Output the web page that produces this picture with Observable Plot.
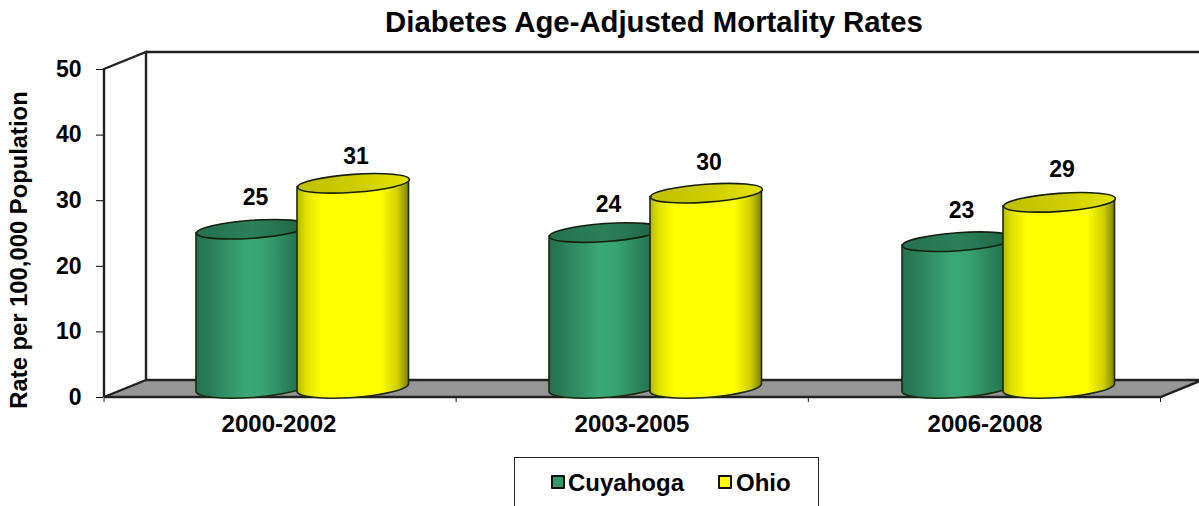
<!DOCTYPE html>
<html>
<head>
<meta charset="utf-8">
<script src="https://cdn.jsdelivr.net/npm/d3@7"></script>
<script src="https://cdn.jsdelivr.net/npm/@observablehq/plot@0.6"></script>
<style>
html,body{margin:0;padding:0;background:#fff;width:1199px;height:506px;overflow:hidden;font-family:"Liberation Sans",Arial,sans-serif;color:#000}
#title{height:46px;line-height:44px;font-weight:bold;font-size:29.3px;text-align:center;padding-left:109px}
#chart svg{display:block}
#legend{position:absolute;left:514px;top:457px;width:303px;height:60px;border:1px solid #222;box-sizing:content-box;font-weight:bold;font-size:24px}
#legend span.i{position:absolute;top:12px;line-height:26px}
#legend span.s{position:absolute;top:17px;width:10px;height:10px;border:2px solid #111;border-radius:1px}
</style>
</head>
<body>
<div id="title">Diabetes Age-Adjusted Mortality Rates</div>
<div id="chart"></div>
<div id="legend"></div>
<script>
const periods = ["2000-2002", "2003-2005", "2006-2008"];
const cuyahogaHeights = [24.2, 23.7, 22.3];
const ohioHeights = [31.2, 29.7, 28.3];
const cuyahogaLabels = [25, 24, 23];
const ohioLabels = [31, 30, 29];
const yTicks = [0, 10, 20, 30, 40, 50];
const seriesNames = ["Cuyahoga", "Ohio"];

const table = (h, l) => periods.map((p, i) => ({period: p, height: h[i], label: l[i]}));
const cuyahoga = table(cuyahogaHeights, cuyahogaLabels);
const ohio = table(ohioHeights, ohioLabels);

const W = 1199, H = 410;
const tilt = 4, ry = 9, baseRy = 10, lift = -9.5, sin = Math.sin(tilt * Math.PI / 180), cos = Math.cos(tilt * Math.PI / 180);
const rx = 56;

// Tilted ellipse as a custom symbol
const capSymbol = {
  draw(ctx) {
    const k = 0.5523;
    const P = (a, b) => [a * cos + b * sin, -a * sin + b * cos];
    const pts = [[-rx,0],[-rx,-k*ry],[-k*rx,-ry],[0,-ry],[k*rx,-ry],[rx,-k*ry],[rx,0],[rx,k*ry],[k*rx,ry],[0,ry],[-k*rx,ry],[-rx,k*ry],[-rx,0]].map(p => P(p[0], p[1]));
    ctx.moveTo(...pts[0]);
    for (let i = 1; i < pts.length; i += 3) ctx.bezierCurveTo(...pts[i], ...pts[i+1], ...pts[i+2]);
    ctx.closePath();
  }
};

// Bar rect -> cylinder body path
function cylinder(index, scales, values, dimensions, context, next) {
  const g = next(index, scales, values, dimensions, context);
  d3.select(g).selectAll("rect").each(function() {
    const r = d3.select(this);
    const x = +r.attr("x"), y = +r.attr("y"), w = +r.attr("width"), h = +r.attr("height");
    const t = w / 2 * sin, b = y + h;
    const d = `M${x},${y + t}L${x},${b + t}A${w/2},${baseRy} ${-tilt} 0 0 ${x + w},${b - t}L${x + w},${y - t}Z`;
    const p = document.createElementNS("http://www.w3.org/2000/svg", "path");
    p.setAttribute("d", d);
    for (const a of ["fill", "stroke", "stroke-width"]) if (r.attr(a)) p.setAttribute(a, r.attr(a));
    this.replaceWith(p);
  });
  return g;
}

// Gradients
function defs() {
  const d = d3.create("svg:defs");
  const grad = (id, stops) => {
    const g = d.append("linearGradient").attr("id", id);
    stops.forEach(([o, c]) => g.append("stop").attr("offset", o).attr("stop-color", c));
  };
  grad("g-body", [[0,"#24704f"],[0.12,"#2a7d59"],[0.45,"#3aa876"],[0.6,"#38a372"],[1,"#1f6445"]]);
  grad("y-body", [[0,"#b8b800"],[0.08,"#e0e000"],[0.22,"#ffff00"],[0.75,"#ffff00"],[0.9,"#d0d000"],[1,"#808000"]]);
  grad("g-cap", [[0,"#25704f"],[0.5,"#2b8059"],[1,"#1f6445"]]);
  grad("y-cap", [[0,"#c0c000"],[0.5,"#cccc00"],[1,"#e4e400"]]);
  return d.node();
}

// 3-D walls and floor, derived from the scales
function walls(index, {x, y}) {
  const depthX = 42, depthY = -17, trim = 2.5;
  const x0 = x(periods[0]), span = x.bandwidth() * periods.length - trim, xn = x0 + span;
  const y0 = y(0), y1 = y(50);
  const g = d3.create("svg:g").attr("fill", "none").attr("stroke", "#222").attr("stroke-width", 2.4);
  g.append("path").attr("fill", "#969696").attr("stroke", "none")
    .attr("d", `M${x0},${y0}L${x0 + depthX},${y0 + depthY}L${xn + depthX},${y0 + depthY}L${xn},${y0}Z`);
  g.append("path").attr("d", `M${x0},${y0}V${y1}L${x0 + depthX},${y1 + depthY}V${y0 + depthY}L${x0},${y0}H${xn}L${xn + depthX},${y0 + depthY}H${x0 + depthX}`);
  g.append("path").attr("d", `M${x0 + depthX},${y1 + depthY}H${xn + depthX}`);
  const ticks = g.append("g").attr("stroke-width", 1);
  d3.range(periods.length + 1).forEach(i => ticks.append("path").attr("d", `M${x0 + i * span / periods.length},${y0}v5`));
  return g.node();
}

const bodyOpts = (fill, l, r) => ({x: "period", y: "height", fill, stroke: "#1c2a10", strokeWidth: 1.6, insetLeft: l, insetRight: r, dy: lift, render: cylinder});
const capOpts = (fill, dx) => ({x: "period", y: "height", symbol: capSymbol, fill, stroke: "#15200c", strokeWidth: 1.6, dx, dy: lift});
const labelOpts = (dx, dy) => ({x: "period", y: "label", text: "label", dx, dy, fontSize: 23, fontWeight: "bold", fill: "#000"});

const plot = Plot.plot({
  width: W, height: H,
  marginTop: 23, marginBottom: 59, marginLeft: 103, marginRight: 35.5,
  style: {fontFamily: "'Liberation Sans', Arial, sans-serif", color: "#000", background: "transparent", overflow: "visible"},
  x: {domain: periods, padding: 0, label: null},
  y: {domain: [0, 50], label: null},
  marks: [
    defs,
    walls,
    Plot.axisY({ticks: yTicks, tickSize: 7, tickPadding: 15, fontSize: 23, fontWeight: "bold", label: null}),
    Plot.axisX({tickSize: 0, tickPadding: 17, dx: -2, fontSize: 24, fontWeight: "bold", label: null}),
    Plot.text(["Rate per 100,000 Population"], {frameAnchor: "left", textAnchor: "middle", rotate: -90, dx: -84.5, dy: 16.5, fontSize: 23.8, fontWeight: "bold", fill: "#000"}),
    Plot.barY(cuyahoga, bodyOpts("url(#g-body)", 92, 149.5)),
    Plot.dot(cuyahoga, capOpts("url(#g-cap)", -28.75)),
    Plot.barY(ohio, bodyOpts("url(#y-body)", 193, 48.5)),
    Plot.dot(ohio, capOpts("url(#y-cap)", 72.5)),
    Plot.text(cuyahoga, labelOpts(-25.5, -35.6)),
    Plot.text(ohio, labelOpts(75, -37.6))
  ]
});
document.getElementById("chart").appendChild(plot);

const lg = d3.select("#legend");
const swatchColors = ["#339966", "#ffff00"];
[[36, 53], [203, 221]].forEach(([sx, tx], i) => {
  lg.append("span").attr("class", "s").style("left", sx + "px").style("background", swatchColors[i]);
  lg.append("span").attr("class", "i").style("left", tx + "px").text(seriesNames[i]);
});
</script>
</body>
</html>
